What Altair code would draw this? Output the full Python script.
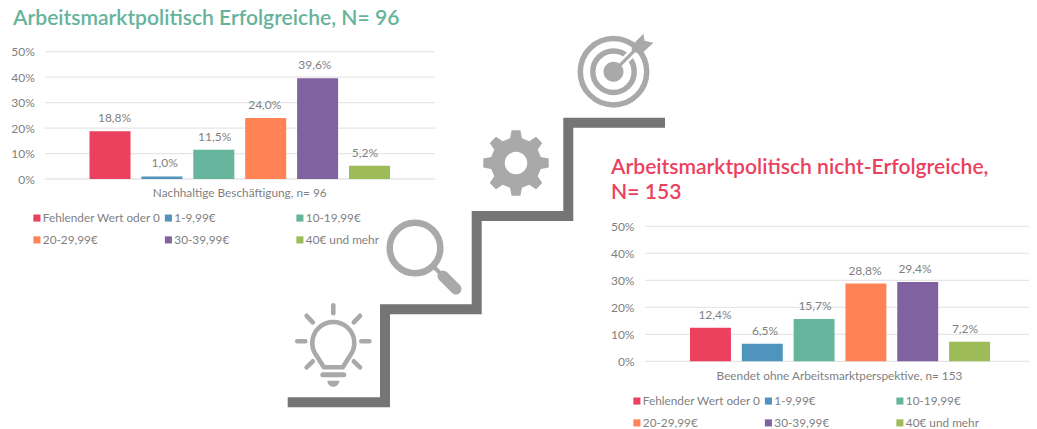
import math
import altair as alt
import pandas as pd

categories = ["Fehlender Wert oder 0", "1-9,99€", "10-19,99€", "20-29,99€", "30-39,99€", "40€ und mehr"]
palette = ["#EB415E", "#4F94BD", "#66B59D", "#FF8355", "#8162A0", "#9DBB57"]
legend_order = ["Fehlender Wert oder 0", "20-29,99€", "1-9,99€", "30-39,99€", "10-19,99€", "40€ und mehr"]
legend_palette = ["#EB415E", "#FF8355", "#4F94BD", "#8162A0", "#66B59D", "#9DBB57"]
values_left = [18.8, 1.0, 11.5, 24.0, 39.6, 5.2]
values_right = [12.4, 6.5, 15.7, 28.8, 29.4, 7.2]
ticks = [0, 10, 20, 30, 40, 50]
title_left = ["Arbeitsmarktpolitisch Erfolgreiche, N= 96"]
title_right = ["Arbeitsmarktpolitisch nicht-Erfolgreiche,", "N= 153"]
xlabel_left = "Nachhaltige Beschäftigung, n= 96"
xlabel_right = "Beendet ohne Arbeitsmarktperspektive, n= 153"

OFF = 8
FONT = "Lato"
TXT = "#7F7F7F"
GRID = "#E6E6E6"
ICON = "#A9A9A9"
STAIR = "#757575"
one = pd.DataFrame({"a": [0]})
tick_df = pd.DataFrame({"t": ticks})


def panel(values, bars, y0, y50, grid, axis_right, xlabel, xlabel_pos, legend_pos):
    df = pd.DataFrame({
        "cat": categories,
        "v": values,
        "lab": [f"{v:.1f}%".replace(".", ",") for v in values],
    })
    xs = alt.Scale(domain=categories, range=[bars[0] - OFF, bars[1] - OFF], paddingInner=0.21, paddingOuter=0)
    ys = alt.Scale(domain=[0, 50], range=[y0 - OFF, y50 - OFF])
    gridl = alt.Chart(tick_df).mark_rule(color=GRID, strokeWidth=1.3).encode(
        y=alt.Y("t:Q", scale=ys, axis=None),
        x=alt.value(grid[0] - OFF), x2=alt.value(grid[1] - OFF),
    )
    bar = alt.Chart(df).mark_bar().encode(
        x=alt.X("cat:N", scale=xs, axis=None, sort=categories),
        y=alt.Y("v:Q", scale=ys, axis=alt.Axis(
            orient="left", values=ticks, title=None, grid=False, domain=False, ticks=False, labelPadding=0,
            labelExpr="datum.value + '%'", labelFont=FONT, labelFontSize=12, labelColor=TXT,
            offset=-(axis_right - OFF), labelOverlap=False)),
        color=alt.Color("cat:N",
                        scale=alt.Scale(domain=legend_order, range=legend_palette),
                        legend=alt.Legend(
                            orient="none", legendX=legend_pos[0] - OFF, legendY=legend_pos[1] - OFF,
                            columns=3, gridAlign="all", title=None, symbolType="square", symbolSize=50,
                            symbolStrokeWidth=0, columnPadding=1.5, rowPadding=9, labelOffset=0,
                            labelFont=FONT, labelFontSize=11.8, labelColor=TXT, padding=0)),
    )
    txt = alt.Chart(df).mark_text(font=FONT, fontSize=12, color=TXT, dy=-13, baseline="middle").encode(
        x=alt.X("cat:N", scale=xs, axis=None, sort=categories),
        y=alt.Y("v:Q", scale=ys, axis=None),
        text="lab:N",
    )
    xl = alt.Chart(one).mark_text(font=FONT, fontSize=11.8, color=TXT, text=xlabel, baseline="middle").encode(
        x=alt.value(xlabel_pos[0] - OFF), y=alt.value(xlabel_pos[1] - OFF))
    return [gridl, bar, txt, xl]


def title(lines, x, y, color):
    return [alt.Chart(one).mark_text(font=FONT, fontSize=21.1, fontWeight=600, color=color, text=t,
                                     align="left", baseline="alphabetic").encode(
        x=alt.value(x - OFF), y=alt.value(y + i * 25 - OFF)) for i, t in enumerate(lines)]


def icon(path, cx, cy, color=ICON, width=None, filled=True, cap="round", join="round"):
    kw = dict(shape=path, size=4, opacity=1)
    if filled:
        kw.update(filled=True, fill=color, strokeWidth=0)
    else:
        kw.update(filled=False, stroke=color, strokeWidth=width, strokeCap=cap, strokeJoin=join)
    return alt.Chart(one).mark_point(**kw).encode(x=alt.value(cx - OFF), y=alt.value(cy - OFF))


def circle(r):
    return f"M{-r},0A{r},{r} 0 1 1 {r},0A{r},{r} 0 1 1 {-r},0Z"


def seg(*pts):
    return "M" + "L".join(f"{x},{y}" for x, y in pts)


def gear(outer, inner, hole, teeth=8):
    pts = []
    for i in range(teeth):
        a = 2 * math.pi * i / teeth - math.pi / 2
        w = 2 * math.pi / teeth
        for da, r in [(-0.30, inner), (-0.17, outer), (0.17, outer), (0.30, inner)]:
            t = a + da * w
            pts.append((round(r * math.cos(t), 2), round(r * math.sin(t), 2)))
    p = seg(*pts) + "Z"
    return p + f"M{-hole},0A{hole},{hole} 0 1 0 {hole},0A{hole},{hole} 0 1 0 {-hole},0Z"


layers = []
# staircase
layers.append(icon(seg((287.7, 402.3), (385, 402.3), (385, 309.3), (476.7, 309.3), (476.7, 216),
                       (568.3, 216), (568.3, 122.7), (665, 122.7)), 0, 0, color=STAIR, width=10,
                   filled=False, cap="butt", join="miter"))
# target
TX, TY = 613.5, 71.7
layers += [
    icon(circle(33.2), TX, TY, width=5.5, filled=False),
    icon(circle(20.7), TX, TY, width=5.5, filled=False),
    icon(seg((6, -6), (24, -24)), TX, TY, color="white", width=8, filled=False, cap="butt"),
    icon(circle(10), TX, TY),
    icon(seg((0, 0), (26, -26)), TX, TY, width=3.2, filled=False, cap="butt"),
    icon(seg((18, -21), (19, -27), (30, -38), (31, -31), (40, -29), (28, -18), (23, -19)) + "Z", TX, TY),
]
# gear
layers.append(icon(gear(33, 25.5, 11.3), 516, 163))
# magnifier
MX, MY = 415, 248
layers += [
    icon(circle(25.3), MX, MY, width=6.5, filled=False),
    icon(seg((18, 18), (26, 26)), MX, MY, width=4, filled=False, cap="butt"),
    icon(seg((28, 28), (41, 41)), MX, MY, width=11, filled=False),
]
# bulb
BX, BY = 333.3, 343.3
layers += [
    icon("M-9.5,24L-17,12A21,21 0 1 1 17,12L9.5,24Z", BX, BY, width=4.6, filled=False),
    icon(seg((-10.5, 31.5), (10.5, 31.5)), BX, BY, width=5, filled=False),
    icon("M-6,37.5L6,37.5A6,6 0 0 1 -6,37.5Z", BX, BY),
]
for a, b in [((0, -38), (0, -30)), ((-26.7, -27.5), (-20.5, -21)), ((26.7, -27.5), (20.5, -21)),
             ((-36, -2), (-28, -2)), ((36, -2), (28, -2)),
             ((-26.7, 24), (-20.5, 18)), ((26.7, 24), (20.5, 18))]:
    layers.append(icon(seg(a, b), BX, BY, width=4.6, filled=False))

layers += panel(values_left, (89.5, 390), 179, 51.7, (45, 435), 34.3, xlabel_left, (239.7, 193.3), (31, 212))
layers += panel(values_right, (690, 990), 361.3, 226.3, (645, 1036), 634, xlabel_right, (839.5, 376), (631, 395))
layers += title(title_left, 13, 25, "#66B39C")
layers += title(title_right, 611, 174, "#EB415E")

chart = alt.layer(*layers).resolve_scale(x="independent", y="independent", color="independent").properties(
    width=1021, height=421, padding=0, autosize=alt.AutoSizeParams(type="none"), background="white"
).configure_view(stroke=None)

chart.save("out.html", embed_options={"renderer": "svg", "actions": False})
